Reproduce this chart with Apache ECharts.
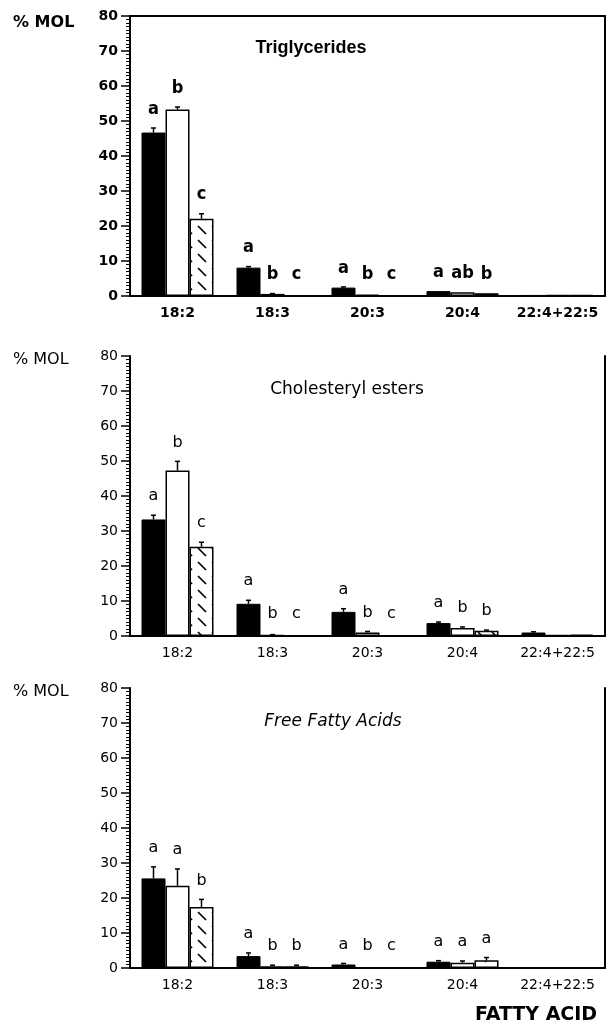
<!DOCTYPE html>
<html>
<head>
<meta charset="utf-8">
<script src="https://cdn.jsdelivr.net/npm/echarts@6/dist/echarts.min.js"></script>
<style>
  html, body { margin: 0; padding: 0; background: #fff; }
  #chart { width: 612px; height: 1025px; }
</style>
</head>
<body>
<div id="chart"></div>
<script>
const categories = ['18:2', '18:3', '20:3', '20:4', '22:4+22:5'];

// Triglycerides
const tgBlack = [46.7, 8.1, 2.4, 1.4, 0.3];
const tgWhite = [53.3, 0.6, 0.4, 1.1, 0.3];
const tgHatch = [22.1, 0.2, 0.2, 0.8, 0.3];
const tgBlackErr = [1.3, 0.3, 0.2, 0, 0];
const tgWhiteErr = [0.7, 0.1, 0, 0, 0];
const tgHatchErr = [1.4, 0, 0, 0, 0];
const tgBlackLetters = ['a', 'a', 'a', 'a', ''];
const tgWhiteLetters = ['b', 'b', 'b', 'ab', ''];
const tgHatchLetters = ['c', 'c', 'c', 'b', ''];

// Cholesteryl esters
const ceBlack = [33.3, 9.2, 6.9, 3.7, 1.0];
const ceWhite = [47.3, 0.3, 1.0, 2.3, 0.3];
const ceHatch = [25.5, 0.1, 0.2, 1.5, 0.4];
const ceBlackErr = [1.2, 1.0, 0.9, 0.3, 0.2];
const ceWhiteErr = [2.6, 0.1, 0.3, 0.3, 0];
const ceHatchErr = [1.3, 0, 0, 0.2, 0];
const ceBlackLetters = ['a', 'a', 'a', 'a', ''];
const ceWhiteLetters = ['b', 'b', 'b', 'b', ''];
const ceHatchLetters = ['c', 'c', 'c', 'b', ''];

// Free fatty acids
const ffBlack = [25.6, 3.4, 1.0, 1.8, 0.2];
const ffWhite = [23.5, 0.5, 0.2, 1.5, 0.2];
const ffHatch = [17.4, 0.5, 0.1, 2.2, 0.2];
const ffBlackErr = [3.3, 0.9, 0.3, 0.3, 0];
const ffWhiteErr = [4.8, 0.3, 0, 0.5, 0];
const ffHatchErr = [2.2, 0.3, 0, 0.8, 0];
const ffBlackLetters = ['a', 'a', 'a', 'a', ''];
const ffWhiteLetters = ['a', 'b', 'b', 'a', ''];
const ffHatchLetters = ['b', 'b', 'c', 'a', ''];

// hatch fill: dashed "\" lines
function hatchCanvas() {
  const c = document.createElement('canvas');
  c.width = 14; c.height = 14;
  const ctx = c.getContext('2d');
  ctx.fillStyle = '#fff';
  ctx.fillRect(0, 0, 14, 14);
  ctx.strokeStyle = '#000';
  ctx.lineWidth = 1.7;
  ctx.beginPath();
  ctx.moveTo(2, 2);
  ctx.lineTo(10, 10);
  ctx.stroke();
  return c;
}
const hatch = { image: hatchCanvas(), repeat: 'repeat' };

const panels = [
  { top: 16, bold: true, groups: [
      { v: tgBlack, e: tgBlackErr, l: tgBlackLetters },
      { v: tgWhite, e: tgWhiteErr, l: tgWhiteLetters },
      { v: tgHatch, e: tgHatchErr, l: tgHatchLetters } ] },
  { top: 356, bold: false, groups: [
      { v: ceBlack, e: ceBlackErr, l: ceBlackLetters },
      { v: ceWhite, e: ceWhiteErr, l: ceWhiteLetters },
      { v: ceHatch, e: ceHatchErr, l: ceHatchLetters } ] },
  { top: 688, bold: false, groups: [
      { v: ffBlack, e: ffBlackErr, l: ffBlackLetters },
      { v: ffWhite, e: ffWhiteErr, l: ffWhiteLetters },
      { v: ffHatch, e: ffHatchErr, l: ffHatchLetters } ] }
];

const BAR_W = 24;
const barStyles = [
  { color: '#000', borderColor: '#000', borderWidth: 1 },
  { color: '#fff', borderColor: '#000', borderWidth: 1.5 },
  { color: hatch, borderColor: '#000', borderWidth: 1.5 }
];

// error whisker + significance letter above each bar
function errRenderer(g, offset, letterFont) {
  return function (params, api) {
    const i = api.value(0);
    const base = api.coord([i, g.v[i]]);
    const top = api.coord([i, g.v[i] + g.e[i]]);
    const zero = api.coord([i, 0]);
    const x = base[0] + offset;
    const kids = [];
    if (g.e[i] > 0) {
      kids.push({ type: 'line', shape: { x1: x, y1: base[1], x2: x, y2: top[1] },
        style: { stroke: '#000', lineWidth: 1.5 } });
      kids.push({ type: 'line', shape: { x1: x - 2.5, y1: top[1], x2: x + 2.5, y2: top[1] },
        style: { stroke: '#000', lineWidth: 1.5 } });
    }
    if (g.l[i]) {
      const y = Math.min(top[1] - 19, zero[1] - 22);
      kids.push({ type: 'text', style: { text: g.l[i], x: x, y: y, font: letterFont,
        textAlign: 'center', textVerticalAlign: 'middle', align: 'center', verticalAlign: 'middle', fill: '#000' } });
    }
    return { type: 'group', children: kids };
  };
}

const grid = [], xAxis = [], yAxis = [], series = [];
panels.forEach((p, k) => {
  grid.push({ left: 130, right: 7, top: p.top, height: 280 });
  const fw = p.bold ? 'bold' : 'normal';
  const xi = xAxis.length;
  xAxis.push({
    type: 'category', gridIndex: k, data: categories, position: 'bottom',
    axisLine: { onZero: false, lineStyle: { color: '#000', width: 2 } },
    axisTick: { alignWithLabel: true, length: 7, lineStyle: { color: '#000', width: 1.5 } },
    axisLabel: { interval: 0, color: '#000', fontFamily: 'DejaVu Sans', fontSize: 14, fontWeight: fw, margin: 10 }
  });
  if (k === 0) {
    // top frame line of the first panel
    xAxis.push({
      type: 'category', gridIndex: 0, data: categories, position: 'top',
      axisLine: { onZero: false, lineStyle: { color: '#000', width: 2 } },
      axisTick: { show: false }, axisLabel: { show: false }
    });
  }
  yAxis.push({
    type: 'value', gridIndex: k, min: 0, max: 80, interval: 10, position: 'left',
    axisLine: { show: true, onZero: false, lineStyle: { color: '#000', width: 2 } },
    axisTick: { show: true, length: 9, lineStyle: { color: '#000', width: 1.5 } },
    minorTick: { show: true, splitNumber: 10, length: 4, lineStyle: { color: '#000', width: 1 } },
    axisLabel: { color: '#000', fontFamily: 'DejaVu Sans', fontSize: 14, fontWeight: fw, margin: 12 },
    splitLine: { show: false }
  });
  // right frame line
  yAxis.push({
    type: 'value', gridIndex: k, min: 0, max: 80, position: 'right',
    axisLine: { show: true, onZero: false, lineStyle: { color: '#000', width: 2 } },
    axisTick: { show: false }, axisLabel: { show: false }, splitLine: { show: false }
  });
  const letterFont = p.bold
    ? 'bold 18px "Liberation Sans Narrow", "DejaVu Sans Condensed", sans-serif'
    : '16px "DejaVu Sans", sans-serif';
  p.groups.forEach((g, j) => {
    series.push({
      type: 'bar', xAxisIndex: xi, yAxisIndex: 2 * k,
      data: g.v, barWidth: BAR_W, barGap: '0%', itemStyle: barStyles[j],
      animation: false, silent: true
    });
  });
  p.groups.forEach((g, j) => {
    series.push({
      type: 'custom', xAxisIndex: xi, yAxisIndex: 2 * k,
      data: g.v.map((v, i) => [i, v + g.e[i]]),
      encode: { x: 0, y: 1 }, clip: false, z: 5, animation: false, silent: true,
      renderItem: errRenderer(g, (j - 1) * BAR_W, letterFont)
    });
  });
});

const graphic = [
  { type: 'text', x: 13, y: 23, style: { text: '% MOL', font: 'bold 16px "DejaVu Sans"', textVerticalAlign: 'middle', fill: '#000' } },
  { type: 'text', x: 13, y: 360, style: { text: '% MOL', font: '16px "DejaVu Sans"', textVerticalAlign: 'middle', fill: '#000' } },
  { type: 'text', x: 13, y: 692, style: { text: '% MOL', font: '16px "DejaVu Sans"', textVerticalAlign: 'middle', fill: '#000' } },
  { type: 'text', x: 311, y: 48, style: { text: 'Triglycerides', font: 'bold 18px "Liberation Sans Narrow", "Liberation Sans"', textAlign: 'center', textVerticalAlign: 'middle', fill: '#000' } },
  { type: 'text', x: 347, y: 390, style: { text: 'Cholesteryl esters', font: '17px "DejaVu Sans"', textAlign: 'center', textVerticalAlign: 'middle', fill: '#000' } },
  { type: 'text', x: 333, y: 722, style: { text: 'Free Fatty Acids', font: 'italic 17px "DejaVu Sans"', textAlign: 'center', textVerticalAlign: 'middle', fill: '#000' } },
  { type: 'text', x: 536, y: 1015, style: { text: 'FATTY ACID', font: 'bold 19px "DejaVu Sans"', textAlign: 'center', textVerticalAlign: 'middle', fill: '#000' } }
];

const chart = echarts.init(document.getElementById('chart'));
chart.setOption({
  animation: false,
  backgroundColor: '#fff',
  grid: grid,
  xAxis: xAxis,
  yAxis: yAxis,
  series: series,
  graphic: graphic
});
</script>
</body>
</html>
